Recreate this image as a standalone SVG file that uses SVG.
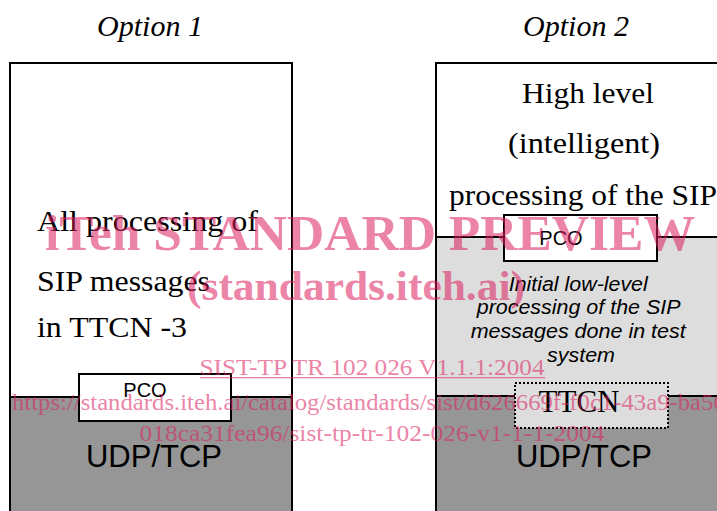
<svg xmlns="http://www.w3.org/2000/svg" width="717" height="511" viewBox="0 0 717 511">
<style>
.serif{font-family:"Liberation Serif","Times New Roman",serif;fill:#000}
.sans{font-family:"Liberation Sans",Arial,sans-serif;fill:#000}
.box{stroke:#000;stroke-width:2}
.wm{font-family:"Liberation Serif","Times New Roman",serif;fill:#dc2060;opacity:0.55}
</style>
<rect width="717" height="511" fill="#fff"/>
<text class="serif" x="150" y="36" font-size="30" font-style="italic" text-anchor="middle">Option 1</text>
<text class="serif" x="576" y="36" font-size="30" font-style="italic" text-anchor="middle">Option 2</text>

<g id="option1">
<rect class="box" x="10" y="63" width="282" height="470" fill="#fff"/>
<text class="serif" x="37" y="231" font-size="29" textLength="221" lengthAdjust="spacingAndGlyphs">All processing of</text>
<text class="serif" x="37" y="291" font-size="29" textLength="173" lengthAdjust="spacingAndGlyphs">SIP messages</text>
<text class="serif" x="37" y="337" font-size="29" textLength="150" lengthAdjust="spacingAndGlyphs">in TTCN -3</text>
</g>
<g id="udp1">
<rect class="box" x="10" y="397" width="282" height="136" fill="#969696"/>
<text class="sans" x="154" y="467" font-size="31" text-anchor="middle">UDP/TCP</text>
</g>
<g id="pco1">
<rect class="box" x="79" y="374" width="152" height="47" fill="#fff"/>
<text class="sans" x="145" y="397" font-size="20" text-anchor="middle">PCO</text>
</g>

<g id="option2">
<rect class="box" x="436" y="63" width="300" height="470" fill="#fff"/>
<text class="serif" x="588" y="103" font-size="29" text-anchor="middle" textLength="132" lengthAdjust="spacingAndGlyphs">High level</text>
<text class="serif" x="584" y="153" font-size="29" text-anchor="middle" textLength="152" lengthAdjust="spacingAndGlyphs">(intelligent)</text>
<text class="serif" x="449" y="205" font-size="29" textLength="268" lengthAdjust="spacingAndGlyphs">processing of the SIP</text>
</g>
<g id="lowlevel">
<rect class="box" x="436" y="237" width="300" height="160" fill="#dddddd"/>
<text class="sans" font-size="20" font-style="italic" text-anchor="middle">
<tspan x="581" y="291" textLength="139" lengthAdjust="spacingAndGlyphs">Initial low-level</tspan>
<tspan x="581" y="314" textLength="203" lengthAdjust="spacingAndGlyphs">processing of the SIP</tspan>
<tspan x="581" y="338" textLength="215" lengthAdjust="spacingAndGlyphs">messages done in test</tspan>
<tspan x="581" y="362" textLength="68" lengthAdjust="spacingAndGlyphs">system</tspan>
</text>
</g>
<g id="udp2">
<rect class="box" x="436" y="396" width="300" height="137" fill="#969696"/>
<text class="sans" x="584" y="467" font-size="31" text-anchor="middle">UDP/TCP</text>
</g>
<g id="pco2">
<rect class="box" x="504" y="215" width="153" height="46" fill="#fff"/>
<text class="sans" x="561" y="245" font-size="20" text-anchor="middle">PCO</text>
</g>
<g id="ttcn">
<rect x="515" y="383" width="153" height="45" fill="#dddddd" stroke="#000" stroke-width="2" stroke-dasharray="2 2"/>
<text class="serif" x="579" y="412" font-size="31" text-anchor="middle">TTCN</text>
</g>
<g id="connectors"></g>

<g id="watermark">
<text class="wm" x="370" y="250" font-size="51" font-weight="bold" text-anchor="middle" textLength="650" lengthAdjust="spacingAndGlyphs">iTeh STANDARD PREVIEW</text>
<text class="wm" x="356" y="300" font-size="43" font-weight="bold" text-anchor="middle" textLength="338" lengthAdjust="spacingAndGlyphs">(standards.iteh.ai)</text>
<text class="wm" x="372" y="375" font-size="23" text-anchor="middle" textLength="345" lengthAdjust="spacingAndGlyphs">SIST-TP TR 102 026 V1.1.1:2004</text>
<rect x="200" y="377" width="345" height="1.3" fill="#dc2060" opacity="0.55"/>
<text class="wm" x="12" y="410" font-size="24" textLength="722" lengthAdjust="spacingAndGlyphs">https://standards.iteh.ai/catalog/standards/sist/d626669f-f0c1-43a9-ba50-</text>
<text class="wm" x="372" y="441" font-size="24" text-anchor="middle" textLength="465" lengthAdjust="spacingAndGlyphs">018ca31fea96/sist-tp-tr-102-026-v1-1-1-2004</text>
</g>
</svg>
